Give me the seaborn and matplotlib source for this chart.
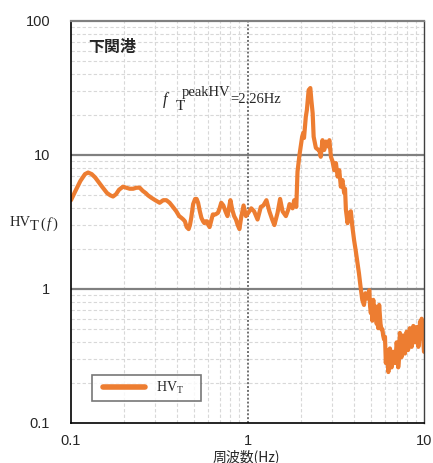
import matplotlib
matplotlib.use("Agg")
import matplotlib.pyplot as plt
import matplotlib.ticker as mticker
from matplotlib.legend_handler import HandlerLine2D
import seaborn as sns
import pandas as pd

# HV spectrum
freq = [0.100, 0.106, 0.113, 0.120, 0.125, 0.131, 0.137, 0.143, 0.150, 0.160,
        0.167, 0.173, 0.180, 0.187, 0.197, 0.206, 0.215, 0.225, 0.235, 0.245,
        0.255, 0.265, 0.273, 0.285, 0.300, 0.318, 0.333, 0.347, 0.362, 0.378,
        0.395, 0.410, 0.422, 0.433, 0.442, 0.452, 0.464, 0.472, 0.480, 0.492,
        0.505, 0.515, 0.525, 0.537, 0.548, 0.560, 0.570, 0.580, 0.590, 0.600,
        0.610, 0.622, 0.636, 0.658, 0.680, 0.695, 0.710, 0.730, 0.750, 0.770,
        0.785, 0.800, 0.820, 0.840, 0.860, 0.880, 0.900, 0.920, 0.950, 0.980,
        1.010, 1.050, 1.090, 1.140, 1.190, 1.230, 1.280, 1.330, 1.380, 1.420,
        1.480, 1.530, 1.580, 1.650, 1.700, 1.730, 1.800, 1.840, 1.890, 1.920,
        1.970, 2.040, 2.070, 2.090, 2.140, 2.170, 2.220, 2.270, 2.300, 2.340,
        2.370, 2.440, 2.500, 2.550, 2.600, 2.660, 2.720, 2.780, 2.840, 2.910,
        2.970, 3.030, 3.100, 3.170, 3.240, 3.310, 3.380, 3.450, 3.530, 3.570,
        3.610, 3.690, 3.770, 3.850, 3.930, 4.020, 4.100, 4.200, 4.280, 4.370,
        4.470, 4.570, 4.660, 4.780, 4.900, 4.950, 5.000, 5.050, 5.100, 5.160,
        5.220, 5.280, 5.330, 5.390, 5.450, 5.500, 5.570, 5.620, 5.670, 5.740,
        5.810, 5.870, 5.940, 6.010, 6.080, 6.140, 6.210, 6.280, 6.340, 6.410,
        6.480, 6.550, 6.620, 6.700, 6.770, 6.850, 6.920, 7.000, 7.070, 7.140,
        7.220, 7.300, 7.390, 7.460, 7.540, 7.620, 7.710, 7.800, 7.880, 7.970,
        8.050, 8.120, 8.200, 8.310, 8.420, 8.510, 8.600, 8.700, 8.790, 8.890,
        8.990, 9.090, 9.190, 9.290, 9.390, 9.490, 9.590, 9.700, 9.800, 9.900,
        10.00]
hv = [4.6, 5.4, 6.4, 7.2, 7.4, 7.2, 6.8, 6.3, 5.8, 5.2,
      5.0, 4.9, 5.1, 5.5, 5.8, 5.7, 5.6, 5.6, 5.7, 5.7,
      5.4, 5.2, 5.0, 4.8, 4.6, 4.4, 4.6, 4.6, 4.4, 4.1,
      3.8, 3.5, 3.4, 3.3, 3.2, 2.9, 2.8, 3.0, 3.4, 4.3,
      4.7, 4.7, 4.4, 3.8, 3.4, 3.2, 3.1, 3.2, 3.2, 3.0,
      2.9, 3.2, 3.6, 3.6, 3.7, 4.0, 4.4, 4.2, 3.8, 3.5,
      4.0, 4.6, 3.9, 3.5, 3.3, 3.0, 2.8, 3.4, 4.2, 3.5,
      3.7, 4.0, 3.8, 3.3, 4.1, 4.2, 4.6, 3.8, 3.3, 3.0,
      3.7, 4.7, 3.8, 3.5, 3.9, 4.3, 4.0, 4.6, 4.1, 7.5,
      10.0, 13.7, 14.6, 13.4, 19.3, 21.7, 30.5, 31.6, 25.7, 20.5,
      13.7, 11.3, 11.0, 10.9, 9.7, 12.9, 10.9, 12.6, 11.6, 12.9,
      9.7, 9.0, 7.7, 8.7, 6.9, 7.7, 5.8, 6.5, 5.2, 5.6,
      3.9, 3.1, 3.7, 3.8, 2.9, 2.3, 1.95, 1.56, 1.31, 1.04,
      0.83, 0.76, 0.93, 0.85, 0.98, 0.74, 0.66, 0.80, 0.58, 0.83,
      0.62, 0.72, 0.74, 0.55, 0.60, 0.51, 0.76, 0.64, 0.55, 0.50,
      0.50, 0.45, 0.42, 0.44, 0.28, 0.35, 0.33, 0.24, 0.30, 0.36,
      0.33, 0.26, 0.30, 0.34, 0.31, 0.28, 0.32, 0.40, 0.36, 0.26,
      0.30, 0.47, 0.42, 0.31, 0.36, 0.45, 0.40, 0.33, 0.38, 0.48,
      0.44, 0.35, 0.40, 0.51, 0.46, 0.37, 0.42, 0.53, 0.48, 0.40,
      0.43, 0.52, 0.48, 0.37, 0.42, 0.57, 0.52, 0.60, 0.55, 0.42,
      0.34]

x_ticks = [0.1, 1, 10]
x_labels = ["0.1", "1", "10"]
y_ticks = [0.1, 1, 10, 100]
y_labels = ["0.1", "1", "10", "100"]

orange = "#ED7D31"

sns.set_style("white")
plt.rcParams['font.family'] = ['Liberation Sans', 'DejaVu Sans']
plt.rcParams['mathtext.fontset'] = 'custom'
plt.rcParams['mathtext.rm'] = 'Liberation Serif'
plt.rcParams['mathtext.it'] = 'Liberation Serif:italic'

df = pd.DataFrame({"freq": freq, "hv": hv})

W, H = 433, 463
fig = plt.figure(figsize=(W / 100, H / 100), dpi=100)
ax = fig.add_axes([71 / W, 1 - 423 / H, 353 / W, 402 / H])

sns.lineplot(data=df, x="freq", y="hv", ax=ax, color=orange, lw=3,
             estimator=None, label=r"$\mathrm{HV}_\mathrm{T}$" + "    ")

ax.set_xscale("log")
ax.set_yscale("log")
ax.set_xlim(0.1, 10)
ax.set_ylim(0.1, 100)

ax.xaxis.set_major_locator(mticker.FixedLocator(x_ticks))
ax.xaxis.set_major_formatter(mticker.FixedFormatter(x_labels))
ax.yaxis.set_major_locator(mticker.FixedLocator(y_ticks))
ax.yaxis.set_major_formatter(mticker.FixedFormatter(y_labels))
ax.xaxis.set_minor_locator(mticker.LogLocator(base=10, subs=range(2, 10)))
ax.yaxis.set_minor_locator(mticker.LogLocator(base=10, subs=range(2, 10)))
ax.xaxis.set_minor_formatter(mticker.NullFormatter())
ax.yaxis.set_minor_formatter(mticker.NullFormatter())
ax.tick_params(which="both", length=0)
ax.tick_params(axis="y", pad=15, labelsize=10.5)
ax.tick_params(axis="x", pad=8, labelsize=10.5)

# grid
ax.grid(which="minor", color="#d8d8d8", lw=0.8, ls=(0, (3, 2)))
for v in [1, 10]:
    ax.axhline(v, color="#808080", lw=1.6, zorder=1.5)
ax.axvline(1, color="#707070", lw=1.4, ls=(0, (1, 1)), zorder=1.5)

for s in ["left", "bottom"]:
    ax.spines[s].set_color("black")
    ax.spines[s].set_linewidth(1.2)
ax.spines["top"].set_color("#808080")
ax.spines["top"].set_linewidth(1.6)
ax.spines["right"].set_color("#404040")
ax.spines["right"].set_linewidth(1.0)

ax.set_xlabel("")
ax.set_ylabel("")


def px(x, y):
    return x / W, 1 - y / H


serif = "Liberation Serif"
fig.text(*px(88, 47), "下関港", family=["Noto Sans CJK JP", "DejaVu Sans"],
         fontsize=11.5, fontweight="bold", va="center", ha="left")

# peak annotation
fig.text(*px(163, 104), "f", family=serif, style="italic", fontsize=11.5, va="baseline")
fig.text(*px(176, 110), "T", family=serif, fontsize=11, va="baseline")
fig.text(*px(182, 96), "peakHV", family=serif, fontsize=10.5, va="baseline")
fig.text(*px(230, 103), "=2.26Hz", family=serif, fontsize=10.5, va="baseline")

# y label
fig.text(*px(10, 226), "HV", family=serif, fontsize=10.5, va="baseline")
fig.text(*px(30, 230), "T", family=serif, fontsize=10.5, va="baseline")
fig.text(*px(40, 228), r"$(\,f\,)$", fontsize=10.5, va="baseline")

# x label
fig.text(*px(246, 449), "周波数(Hz)", family=["Noto Sans CJK JP", "DejaVu Sans"],
         fontsize=10, ha="center", va="top")

leg = ax.legend(loc="lower left", bbox_to_anchor=(0.059, 0.055), borderaxespad=0,
                fancybox=False, frameon=True, edgecolor="#555555", fontsize=10,
                handlelength=3.5, borderpad=0.35, handletextpad=0.8,
                handler_map={plt.Line2D: HandlerLine2D(xpad=0.45)})
leg.get_frame().set_linewidth(1.2)
for line in leg.get_lines():
    line.set_linewidth(4)

fig.savefig("out.png", dpi=100)
